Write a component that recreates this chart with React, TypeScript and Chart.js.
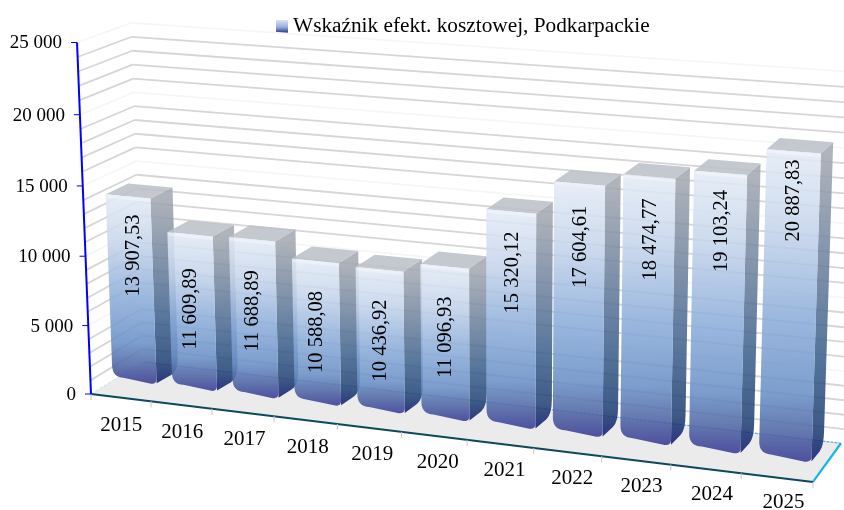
import React, { useEffect, useRef } from "react";
import { Chart, registerables } from "chart.js";

Chart.register(...registerables);

const years = ["2015", "2016", "2017", "2018", "2019", "2020", "2021", "2022", "2023", "2024", "2025"];
const values = [13907.53, 11609.89, 11688.89, 10588.08, 10436.92, 11096.93, 15320.12, 17604.61, 18474.77, 19103.24, 20887.83];
const seriesName = "Wskaźnik efekt. kosztowej, Podkarpackie";
const yMax = 25000;
const majorStep = 5000;
const minorStep = 1000;

const FONT = '"Liberation Serif", "Times New Roman", serif';
const CAM = { x0: 91, y0: 394, a: 645.8, b: -16.5, c: 57.45, e: 42.8, f: -352.9, g: -18.2, p: -0.0937, q: -0.033, r: 0.0381 };
const DEPTH_FRONT = 0.45;
const DEPTH_BACK = 0.88;
const TOP_DROP = 0.014;
const shiftU = (u: number) => u - 0.0155 + 0.009 * u;

type Pt = [number, number];
function project(u: number, w: number, d: number): Pt {
  const den = 1 + CAM.p * u + CAM.q * w + CAM.r * d;
  return [(CAM.x0 + CAM.a * u + CAM.b * w + CAM.c * d) / den, (CAM.y0 + CAM.e * u + CAM.f * w + CAM.g * d) / den];
}
const fmtTick = (v: number) => String(v).replace(/\B(?=(\d{3})+$)/g, " ");
const fmtValue = (v: number) => {
  const [i, f] = v.toFixed(2).split(".");
  return `${fmtTick(Number(i))},${f}`;
};

function line(ctx: CanvasRenderingContext2D, a: Pt, b: Pt, color: string, width: number, dash: number[] = []) {
  ctx.save();
  ctx.strokeStyle = color;
  ctx.lineWidth = width;
  ctx.setLineDash(dash);
  ctx.beginPath();
  ctx.moveTo(a[0], a[1]);
  ctx.lineTo(b[0], b[1]);
  ctx.stroke();
  ctx.restore();
}
function poly(ctx: CanvasRenderingContext2D, pts: Pt[], fill: string | CanvasGradient) {
  ctx.fillStyle = fill;
  ctx.beginPath();
  pts.forEach((p, i) => (i ? ctx.lineTo(p[0], p[1]) : ctx.moveTo(p[0], p[1])));
  ctx.closePath();
  ctx.fill();
}
function ramp(ctx: CanvasRenderingContext2D, y0: number, y1: number, stops: [number, string][]) {
  const g = ctx.createLinearGradient(0, y0, 0, y1);
  stops.forEach(([t, c]) => g.addColorStop(t, c));
  return g;
}
const FRONT_STOPS: [number, string][] = [
  [0, "#e4ebf6"],
  [0.25, "#c6d5eb"],
  [0.55, "#8bacd9"],
  [0.78, "#6a90c6"],
  [0.9, "#4f66a4"],
  [1, "#383a94"],
];
const SIDE_STOPS: [number, string][] = [
  [0, "#a4a9b2"],
  [0.3, "#7688a1"],
  [0.65, "#3f628d"],
  [0.88, "#244476"],
  [1, "#101c70"],
];

const labelDx = [6, 1, 1, 1, 1, 1, 1, 1, 1, 1, 0];
const labelGap = [18, 34, 31, 30, 30, 30, 20, 22, 22, 17, 8];

const scenePlugin = {
  id: "scene",
  beforeDatasetsDraw(chart: any) {
    const ctx: CanvasRenderingContext2D = chart.ctx;
    const y = chart.scales.y;
    const x = chart.scales.x;
    const area = chart.chartArea;
    const wOf = (v: number) => (area.bottom - y.getPixelForValue(v)) / area.height;
    ctx.save();
    poly(ctx, [project(0, 0, 0), project(1, 0, 0), project(1, 0, 1), project(0, 0, 1)], "#ebebeb");
    for (let v = minorStep; v <= yMax; v += minorStep) {
      const w = wOf(v);
      const major = v % majorStep === 0;
      const color = major ? "#f6f6f6" : "#d6d6d6";
      line(ctx, project(0, w, 0), project(0, w, 1), color, 1.8);
      line(ctx, project(0, w, 1), project(1.02, w, 1), color, 1.8);
    }
    line(ctx, project(0, 0, 0), project(0, 0, 1), "#bfe4f5", 1, [3, 2]);
    line(ctx, project(0, 0, 1), project(1, 0, 1), "#5aaadc", 1.2, [3, 1]);
    line(ctx, project(1, 0, 0), project(1, 0, 1), "#1ab2ea", 2.2);
    line(ctx, project(0, 0, 0), project(1, 0, 0), "#0b4a5c", 2);
    x.ticks.forEach((_: any, i: number) => {
      const p0 = project(i / x.ticks.length, 0, 0);
      line(ctx, p0, [p0[0], p0[1] + 6], "#c4c4c4", 1);
    });
    const pe = project(1, 0, 0);
    line(ctx, pe, [pe[0], pe[1] + 6], "#c4c4c4", 1);
    line(ctx, project(0, 0, 0), project(0, 1, 0), "#0000ff", 2);
    ctx.fillStyle = "#000";
    ctx.font = `19px ${FONT}`;
    ctx.textAlign = "right";
    ctx.textBaseline = "middle";
    y.ticks.forEach((t: any) => {
      const p0 = project(0, wOf(t.value), 0);
      line(ctx, p0, [p0[0] - 6, p0[1]], "#0000ff", 1);
      ctx.fillStyle = "#000";
      ctx.fillText(fmtTick(t.value), p0[0] - 15, p0[1] + 1);
    });
    ctx.font = `21px ${FONT}`;
    ctx.textAlign = "center";
    x.ticks.forEach((t: any, i: number) => {
      const px = x.getPixelForTick(i);
      const u = (px - area.left) / area.width;
      const p0 = project(u, 0, 0);
      ctx.fillText(x.getLabelForValue(t.value), p0[0] + 7 * u, p0[1] + 28 - 3 * u);
    });
    ctx.restore();
  },
  afterDatasetsDraw(chart: any) {
    const ctx: CanvasRenderingContext2D = chart.ctx;
    const area = chart.chartArea;
    const meta = chart.getDatasetMeta(0);
    const uOf = (px: number) => shiftU((px - area.left) / area.width);
    const wOf = (py: number) => (area.bottom - py) / area.height;
    ctx.save();
    meta.data.forEach((el: any, i: number) => {
      const p = el.getProps(["x", "y", "base", "width"], true);
      const u0 = uOf(p.x - p.width / 2);
      const u1 = uOf(p.x + p.width / 2);
      const top = wOf(p.y) - TOP_DROP;
      const base = wOf(p.base);
      const fTL = project(u0, top, DEPTH_FRONT);
      const fTR = project(u1, top, DEPTH_FRONT);
      const fBL = project(u0, base, DEPTH_FRONT);
      const fBR = project(u1, base, DEPTH_FRONT);
      const bTL = project(u0, top, DEPTH_BACK);
      const bTR = project(u1, top, DEPTH_BACK);
      const bBR = project(u1, base, DEPTH_BACK);
      const ru = (u1 - u0) * 0.25;
      const rw = 0.04;
      ctx.globalAlpha = 0.88;
      ctx.fillStyle = ramp(ctx, fTR[1], fBR[1], SIDE_STOPS);
      ctx.beginPath();
      ctx.moveTo(fTR[0], fTR[1]);
      ctx.lineTo(bTR[0], bTR[1]);
      {
        const up = project(u1, base + rw, DEPTH_BACK);
        const mid = project(u1, base, (DEPTH_FRONT + 2 * DEPTH_BACK) / 3);
        ctx.lineTo(up[0], up[1]);
        ctx.quadraticCurveTo(bBR[0], bBR[1], mid[0], mid[1]);
      }
      ctx.lineTo(fBR[0], fBR[1] - 1);
      ctx.closePath();
      ctx.fill();
      poly(ctx, [fTL, fTR, bTR, bTL], "#bcc0c8");
      ctx.fillStyle = ramp(ctx, fTL[1], fBR[1], FRONT_STOPS);
      ctx.beginPath();
      ctx.moveTo(fTL[0], fTL[1]);
      ctx.lineTo(fTR[0], fTR[1]);
      {
        const a = project(u1, base + rw * 0.4, DEPTH_FRONT);
        const b = project(u1 - ru * 0.5, base, DEPTH_FRONT);
        ctx.lineTo(a[0], a[1]);
        ctx.quadraticCurveTo(fBR[0], fBR[1], b[0], b[1]);
        const c = project(u0 + ru, base + 0.008, DEPTH_FRONT);
        const d = project(u0, base + rw, DEPTH_FRONT);
        ctx.lineTo(c[0], c[1]);
        ctx.quadraticCurveTo(fBL[0], fBL[1] - 2, d[0], d[1]);
      }
      ctx.closePath();
      ctx.fill();
      ctx.globalAlpha = 1;
      line(ctx, [fTL[0] + 1, fTL[1] + 2], [fTR[0], fTR[1] + 2], "rgba(255,255,255,.3)", 3);
      const c = project((u0 + u1) / 2, top, DEPTH_FRONT);
      ctx.save();
      ctx.translate(c[0] + labelDx[i], c[1] + labelGap[i]);
      ctx.rotate(-Math.PI / 2);
      ctx.fillStyle = "#000";
      ctx.font = `20.5px ${FONT}`;
      ctx.textAlign = "right";
      ctx.textBaseline = "middle";
      ctx.fillText(fmtValue(values[i]), 0, 0);
      ctx.restore();
    });
    ctx.restore();
  },
};

function makeSwatch() {
  const c = document.createElement("canvas");
  c.width = 12;
  c.height = 13;
  const g = c.getContext("2d")!;
  const grad = g.createLinearGradient(0, 0, 0, 13);
  grad.addColorStop(0, "#dbe4f2");
  grad.addColorStop(0.55, "#92aed7");
  grad.addColorStop(1, "#1f2d8a");
  g.fillStyle = grad;
  g.fillRect(0, 0, 12, 13);
  return c;
}

export default function App() {
  const ref = useRef<HTMLCanvasElement>(null);
  useEffect(() => {
    const canvas = ref.current!;
    const swatch = makeSwatch();
    const chart = new Chart(canvas, {
      type: "bar",
      data: {
        labels: years,
        datasets: [
          {
            label: seriesName,
            data: values,
            backgroundColor: "rgba(0,0,0,0)",
            borderWidth: 0,
            barPercentage: 1,
            categoryPercentage: 0.74,
          },
        ],
      },
      options: {
        responsive: false,
        animation: false,
        layout: { padding: { left: 87, top: 6 } },
        scales: {
          x: { display: false },
          y: { display: false, min: 0, max: yMax, ticks: { stepSize: majorStep } },
        },
        plugins: {
          tooltip: { enabled: false },
          legend: {
            position: "top",
            labels: {
              color: "#000",
              font: { family: FONT, size: 21.3 },
              usePointStyle: true,
              pointStyleWidth: 1,
              boxHeight: 13,
              padding: 10,
              generateLabels: () => [
                { text: seriesName, pointStyle: swatch, fillStyle: "#92aed7", strokeStyle: "rgba(0,0,0,0)", lineWidth: 0, datasetIndex: 0 } as any,
              ],
            },
          },
        },
      },
      plugins: [scenePlugin as any],
    });
    return () => chart.destroy();
  }, []);
  return <canvas ref={ref} width={844} height={510} style={{ position: "fixed", left: 0, top: 0, display: "block" }} />;
}
